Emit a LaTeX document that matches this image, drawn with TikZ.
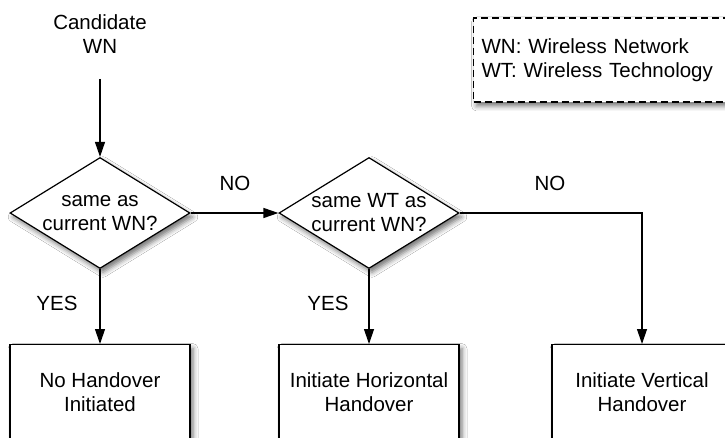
\documentclass[tikz,border=0pt]{standalone}
\usepackage{fontspec}
\setmainfont{Liberation Sans}
\usetikzlibrary{shapes.geometric,arrows.meta,shadows.blur}

\tikzset{
  shade/.style={blur shadow={shadow xshift=3pt, shadow yshift=-4pt, shadow blur radius=5pt, shadow opacity=55}},
  decision/.style={diamond, draw, line width=1.2pt, fill=white, shade, aspect=1.62, inner sep=-5pt,
    minimum width=180pt, minimum height=111pt, align=center},
  outcome/.style={rectangle, draw, line width=1.2pt, fill=white, shade, anchor=north,
    minimum width=180pt, minimum height=96pt, align=center},
  flow/.style={line width=1.2pt, -{Triangle[length=15pt,width=10pt]}},
  lbl/.style={inner sep=0pt}
}

\begin{document}
\begin{tikzpicture}[x=1pt, y=-1pt, font=\fontsize{20.5}{24}\selectfont]
  \clip (0,0) rectangle (725,438);
  \fill[white] (0,0) rectangle (725,438);

  % legend
  \node[draw, dash pattern=on 7pt off 4pt, line width=1.2pt, fill=white, shade, anchor=west, align=left,
        text width=246pt, inner xsep=8pt, minimum height=84pt] (legend) at (473,60)
        {WN: Wireless Network\\WT: Wireless Technology};

  \node[align=center] (cand) at (100,34) {Candidate\\WN};

  \node[decision] (same) at (100,213) {same as\\current WN?};
  \node[decision] (tech) at (369,213) {same WT as\\current WN?};

  \node[outcome] (none) at (100,344) {No Handover\\Initiated};
  \node[outcome] (horiz) at (369,344) {Initiate Horizontal\\Handover};
  \node[outcome] (vert) at (642,344) {Initiate Vertical\\Handover};

  \node[lbl] (no1) at (235,183) {NO};
  \node[lbl] (no2) at (550,183) {NO};
  \node[lbl] (yes1) at (57,303) {YES};
  \node[lbl] (yes2) at (328,303) {YES};

  % connectors
  \draw[flow, shorten <=22pt] (cand.south) -- (same.north);
  \draw[flow] (same.east) -- (tech.west);
  \draw[flow] (same.south) -- (none.north);
  \draw[flow] (tech.south) -- (horiz.north);
  \draw[flow] (tech.east) -| (vert.north);
\end{tikzpicture}
\end{document}
